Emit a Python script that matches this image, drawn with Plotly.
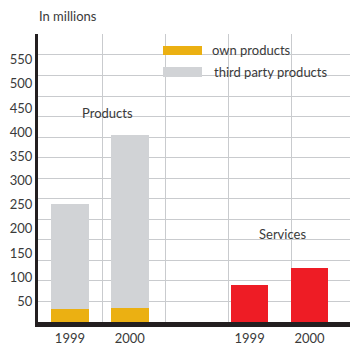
import plotly.graph_objects as go

# ---- data ----
categories = ["P1999", "P2000", "gap", "S1999", "S2000"]
tick_labels = ["1999", "2000", "", "1999", "2000"]
product_cats = ["P1999", "P2000"]
service_cats = ["S1999", "S2000"]
own_products = [35, 37]
third_party_products = [217, 358]
services = [83, 118]
y_ticks = [50, 100, 150, 200, 250, 300, 350, 400, 450, 500, 550]

FONT = "Lato"
TXT = "#3a3a3a"
YELLOW = "#EBB012"
GREY = "#D1D3D6"
RED = "#EE1C25"
GRID = "#C9CBCE"
AXIS = "#231F20"

fig = go.Figure()
fig.add_trace(go.Bar(x=product_cats, y=own_products, name="own products",
                     marker=dict(color=YELLOW, line=dict(width=0)), width=0.63))
fig.add_trace(go.Bar(x=product_cats, y=third_party_products, name="third party products",
                     marker=dict(color=GREY, line=dict(width=0)), width=0.63))
fig.add_trace(go.Bar(x=service_cats, y=services, name="Services",
                     marker=dict(color=RED, line=dict(width=0)), width=0.63))
fig.add_trace(go.Bar(x=["gap"], y=[None], showlegend=False, hoverinfo="skip"))
# invisible trace to hold the grid axes
fig.add_trace(go.Scatter(x=[None], y=[None], xaxis="x2", yaxis="y2",
                         showlegend=False, hoverinfo="skip"))

L, R, T, B = 38, 350, 34, 322.5
W, H = R - L, B - T

def px(x):
    return (x - L) / W

def py(y):
    return (B - y) / H

fig.update_layout(
    width=350, height=347,
    margin=dict(l=L, r=0, t=T, b=347 - B),
    paper_bgcolor="white", plot_bgcolor="white",
    barmode="stack",
    showlegend=False,
    font=dict(family=FONT, size=13, color=TXT),
    xaxis=dict(type="category", categoryorder="array", categoryarray=categories,
               tickvals=categories, ticktext=tick_labels,
               range=[-0.533, 4.676], showgrid=False, showline=True,
               linewidth=5, linecolor=AXIS, ticks="", zeroline=False,
               tickfont=dict(size=13, color=TXT)),
    yaxis=dict(range=[7.2, 603], tickvals=y_ticks, showgrid=False,
               showline=True, linewidth=3, linecolor=AXIS, ticks="",
               zeroline=False, tickfont=dict(size=13, color=TXT)),
    xaxis2=dict(overlaying="x", range=[-0.015, 4.93], dtick=1, showgrid=True,
                gridcolor=GRID, gridwidth=1.3, showticklabels=False,
                zeroline=False, showline=False, ticks=""),
    yaxis2=dict(overlaying="y", range=[0, 14.02], dtick=1, showgrid=True,
                gridcolor=GRID, gridwidth=1.3, showticklabels=False,
                zeroline=False, showline=False, ticks=""),
)

fig.add_annotation(text="In millions", xref="paper", yref="paper",
                   x=px(37), y=py(16), xanchor="left", yanchor="middle",
                   showarrow=False, font=dict(size=13, color=TXT))
fig.add_annotation(text="Products", xref="paper", yref="paper",
                   x=px(107), y=py(113), xanchor="center", yanchor="middle",
                   showarrow=False, font=dict(size=13, color=TXT))
fig.add_annotation(text="Services", xref="paper", yref="paper",
                   x=px(282), y=py(234), xanchor="center", yanchor="middle",
                   showarrow=False, font=dict(size=13, color=TXT))

# manual legend
for (y0, y1, col, label, tx, ty) in [
    (46, 55, YELLOW, "own products", 210, 50),
    (67, 77, GREY, "third party products", 211.5, 72),
]:
    fig.add_shape(type="rect", xref="paper", yref="paper",
                  x0=px(163), x1=px(202), y0=py(y1), y1=py(y0),
                  fillcolor=col, line=dict(width=0), layer="above")
    fig.add_annotation(text=label, xref="paper", yref="paper",
                       x=px(tx), y=py(ty), xanchor="left", yanchor="middle",
                       showarrow=False, font=dict(size=13, color=TXT))

fig.write_html("out.html")
